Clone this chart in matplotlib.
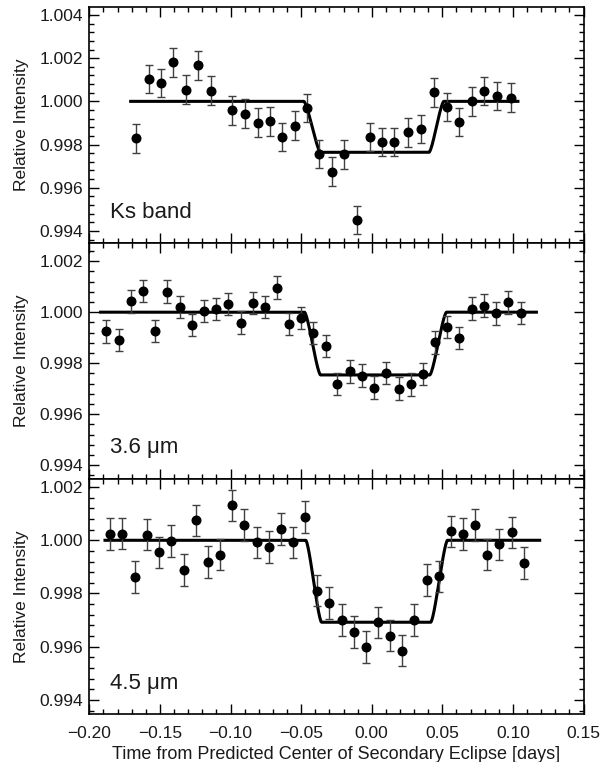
import numpy as np
import matplotlib
matplotlib.use("Agg")
from matplotlib import pyplot as plt
from matplotlib.ticker import MultipleLocator

plt.rcParams['font.family'] = ['Liberation Sans', 'DejaVu Sans']

# Ks band
ks_t = [-0.167, -0.158, -0.1495, -0.1408, -0.1318, -0.1231, -0.1139, -0.0988, -0.0901, -0.0809,
        -0.0724, -0.0634, -0.0545, -0.0457, -0.0370, -0.0281, -0.0193, -0.0104, -0.0014, 0.0073,
        0.0161, 0.0260, 0.0347, 0.0444, 0.0533, 0.0621, 0.0710, 0.0797, 0.0889, 0.0986]
ks_f = [0.99828, 1.00104, 1.00084, 1.00181, 1.00054, 1.00167, 1.00050, 0.99958, 0.99943, 0.99901,
        0.99907, 0.99834, 0.99888, 0.99969, 0.99757, 0.99674, 0.99755, 0.99451, 0.99834, 0.99811,
        0.99812, 0.99856, 0.99871, 1.00042, 0.99974, 0.99904, 1.00000, 1.00047, 1.00025, 1.00017]
ks_err = 0.00066

# 3.6 micron
ch1_t = [-0.1882, -0.1792, -0.1707, -0.1620, -0.1533, -0.1448, -0.1360, -0.1276, -0.1188, -0.1104,
         -0.1016, -0.0929, -0.0844, -0.0757, -0.0670, -0.0585, -0.0500, -0.0415, -0.0327, -0.0243,
         -0.0155, -0.0068, 0.0019, 0.0104, 0.0193, 0.0276, 0.0363, 0.0448, 0.0536, 0.0621,
         0.0708, 0.0797, 0.0882, 0.0967, 0.1054]
ch1_f = [0.99925, 0.99891, 1.00042, 1.00083, 0.99927, 1.00081, 1.00021, 0.99950, 1.00005, 1.00013,
         1.00033, 0.99959, 1.00037, 1.00021, 1.00096, 0.99953, 0.99978, 0.99919, 0.99868, 0.99718,
         0.99768, 0.99751, 0.99704, 0.99761, 0.99700, 0.99717, 0.99758, 0.99882, 0.99941, 0.99898,
         1.00014, 1.00026, 0.99995, 1.00038, 0.99997]
ch1_err = 0.00044

# 4.5 micron
ch2_t = [-0.1854, -0.1766, -0.1679, -0.1592, -0.1507, -0.1420, -0.1332, -0.1247, -0.1162, -0.1075,
         -0.0988, -0.0903, -0.0816, -0.0731, -0.0646, -0.0561, -0.0474, -0.0389, -0.0304, -0.0212,
         -0.0127, -0.0040, 0.0047, 0.0132, 0.0217, 0.0302, 0.0389, 0.0474, 0.0559, 0.0644,
         0.0731, 0.0816, 0.0904, 0.0993, 0.1078]
ch2_f = [1.00024, 1.00025, 0.99862, 1.00021, 0.99955, 0.99997, 0.99889, 1.00075, 0.99919, 0.99946,
         1.00131, 1.00058, 0.99992, 0.99975, 1.00043, 0.99992, 1.00088, 0.99811, 0.99764, 0.99700,
         0.99656, 0.99599, 0.99692, 0.99642, 0.99585, 0.99700, 0.99850, 0.99864, 1.00034, 1.00023,
         1.00058, 0.99946, 0.99985, 1.00030, 0.99914]
ch2_err = 0.00059

# eclipse model: (start, t1, t2, t3, t4, end, depth)
ks_model = (-0.1707, -0.0481, -0.0363, 0.0406, 0.0510, 0.1035, 0.00236)
ch1_model = (-0.1920, -0.0476, -0.0363, 0.0411, 0.0529, 0.1166, 0.00246)
ch2_model = (-0.1889, -0.0467, -0.0356, 0.0418, 0.0536, 0.1189, 0.00308)

labels = ["Ks band", "3.6 \u03bcm", "4.5 \u03bcm"]
ylims = [(0.99345, 1.00437), (0.99348, 1.00272), (0.99346, 1.00232)]


def eclipse(t, m):
    start, t1, t2, t3, t4, end, depth = m
    f = np.zeros_like(t)
    # planet disk behind a straight stellar limb
    def covered(s):
        d = 1 - 2 * np.clip(s, 0, 1)
        return (np.arccos(d) - d * np.sqrt(1 - d ** 2)) / np.pi
    ing = (t >= t1) & (t < t2)
    f[ing] = covered((t[ing] - t1) / (t2 - t1))
    f[(t >= t2) & (t <= t3)] = 1
    eg = (t > t3) & (t <= t4)
    f[eg] = 1 - covered((t[eg] - t3) / (t4 - t3))
    return 1 - depth * f


fig, axes = plt.subplots(3, 1, figsize=(6.13, 7.62), dpi=100, sharex=True)
fig.subplots_adjust(left=0.1457, right=0.952, top=0.9908, bottom=0.0626, hspace=0)

sets = [(ks_t, ks_f, ks_err, ks_model), (ch1_t, ch1_f, ch1_err, ch1_model),
        (ch2_t, ch2_f, ch2_err, ch2_model)]

for i, ax in enumerate(axes):
    t, f, err, m = sets[i]
    tm = np.linspace(m[0], m[5], 2000)
    ax.plot(tm, eclipse(tm, m), color='black', lw=2.2, zorder=2)
    ax.errorbar(t, f, yerr=err, fmt='o', color='black', ms=6.2, ecolor='0.25',
                elinewidth=1.0, capsize=3, capthick=1.0, zorder=3)
    ax.set_xlim(-0.20, 0.15)
    ax.set_ylim(*ylims[i])
    ax.yaxis.set_major_locator(MultipleLocator(0.002))
    ax.yaxis.set_minor_locator(MultipleLocator(0.0004))
    ax.xaxis.set_major_locator(MultipleLocator(0.05))
    ax.xaxis.set_minor_locator(MultipleLocator(0.01))
    ax.yaxis.set_major_formatter(plt.FuncFormatter(lambda v, p: "%.3f" % v))
    ax.tick_params(which='both', direction='in', top=True, right=True, labelsize=12.5,
                   labelcolor='0.1')
    ax.tick_params(which='major', length=7, width=1)
    ax.tick_params(which='minor', length=3.5, width=1)
    ax.tick_params(axis='y', pad=4.5)
    ax.tick_params(axis='x', pad=8.5)
    for s in ax.spines.values():
        s.set_linewidth(1.2)
    ax.set_ylabel("Relative Intensity", fontsize=12.5, color='0.1')
    ax.yaxis.set_label_coords(-0.123, 0.5)
    ax.text(0.042, 0.13, labels[i], transform=ax.transAxes, fontsize=16, va='center',
            ha='left', color='0.1')

axes[2].xaxis.set_major_formatter(plt.FuncFormatter(lambda v, p: ("%.2f" % v).replace("-", "\u2212")))
axes[2].set_xlabel("Time from Predicted Center of Secondary Eclipse [days]", fontsize=13,
                   labelpad=3.5, color='0.1')

plt.savefig("out.png", dpi=100)
